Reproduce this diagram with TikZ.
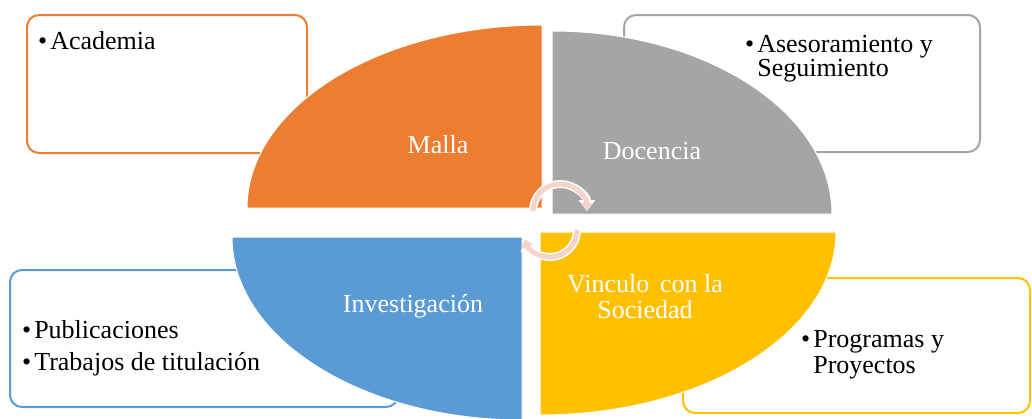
\documentclass[tikz,border=0pt]{standalone}
\usepackage{fontspec}
\setmainfont{Liberation Serif}
\usetikzlibrary{arrows.meta}

\definecolor{mallaorange}{RGB}{237,125,49}
\definecolor{docenciagray}{RGB}{165,165,165}
\definecolor{investblue}{RGB}{91,155,213}
\definecolor{vinculoyellow}{RGB}{255,192,0}
\definecolor{cyclepink}{RGB}{246,212,203}

\tikzset{
  sidebox/.style={line width=2pt,rounded corners=12pt,fill=white},
  quarter/.style={draw=white,line width=1pt},
  quartertext/.style={text=white,inner sep=0pt,anchor=base,align=center,font=\labelfont},
  bullettext/.style={inner sep=0pt,anchor=base west},
}

\begin{document}
\begin{tikzpicture}[x=1pt,y=1pt]
    \pgfmathsetmacro{\quarterry}{183}
    \pgfmathsetmacro{\cycleradius}{27}
    \providecommand{\labelfont}{\fontsize{26}{26}\selectfont}
    \providecommand{\bul}{\textbullet\hspace{3pt}}
    \useasboundingbox (0,0) rectangle (1032,-418);
    % boxes behind the quarters
    \draw[sidebox,draw=mallaorange] (27,-15) rectangle (307,-153);
    \draw[sidebox,draw=docenciagray] (624,-15) rectangle (980,-152);
    \draw[sidebox,draw=investblue] (10,-270) rectangle (398,-407);
    \draw[sidebox,draw=vinculoyellow] (683,-278) rectangle (1030,-413);
    % the four quarters
    \path[quarter,fill=mallaorange] (542,-208) -- (247,-208)
        arc[start angle=180,end angle=90,x radius=295,y radius=\quarterry] -- cycle;
    \path[quarter,fill=docenciagray] (552,-214) -- (552,-31)
        arc[start angle=90,end angle=0,x radius=280,y radius=\quarterry] -- cycle;
    \path[quarter,fill=investblue] (522,-237) -- (232,-237)
        arc[start angle=180,end angle=270,x radius=290,y radius=\quarterry] -- cycle;
    \path[quarter,fill=vinculoyellow] (540,-232) -- (836,-232)
        arc[start angle=0,end angle=-90,x radius=296,y radius=\quarterry] -- cycle;
    % circular arrows
    \coordinate (uppercenter) at (560,-211);
    \coordinate (lowercenter) at (550,-230);
    \draw[white,line width=8pt,-{Triangle[width=16pt,length=11pt]}] ([xshift=-\cycleradius]uppercenter)
        arc[start angle=180,end angle=0,radius=\cycleradius];
    \draw[cyclepink,line width=5pt,-{Triangle[width=12pt,length=8pt]}] ([xshift=-\cycleradius]uppercenter)
        arc[start angle=180,end angle=0,radius=\cycleradius];
    \draw[white,line width=8pt,-{Triangle[width=16pt,length=11pt]}] ([xshift=\cycleradius]lowercenter)
        arc[start angle=0,end angle=-160,radius=\cycleradius];
    \draw[cyclepink,line width=5pt,-{Triangle[width=12pt,length=8pt]}] ([xshift=\cycleradius]lowercenter)
        arc[start angle=0,end angle=-160,radius=\cycleradius];
    % labels
    \node[quartertext] (malla) at (438,-153) {Malla};
    \node[quartertext] (docencia) at (652,-159) {Docencia};
    \node[quartertext] (investigacion) at (413,-312) {Investigación};
    \node[quartertext] (vinculo) at (645,-318) {Vinculo\, con la\\Sociedad};
    \node[bullettext] (academia) at (38,-49) {\labelfont\bul Academia};
    \node[bullettext] (asesoramiento) at (745,-52)
        {\fontsize{26}{23.5}\selectfont\begin{tabular}[t]{@{}l@{\hspace{3pt}}l@{}}\textbullet & Asesoramiento y\\ & Seguimiento\end{tabular}};
    \node[bullettext] (publicaciones) at (22,-338) {\labelfont\bul Publicaciones};
    \node[bullettext] (trabajos) at (22,-370) {\labelfont\bul Trabajos de titulación};
    \node[bullettext] (programas) at (801,-347)
        {\fontsize{26}{26}\selectfont\begin{tabular}[t]{@{}l@{\hspace{3pt}}l@{}}\textbullet & Programas y\\ & Proyectos\end{tabular}};
\end{tikzpicture}
\end{document}
